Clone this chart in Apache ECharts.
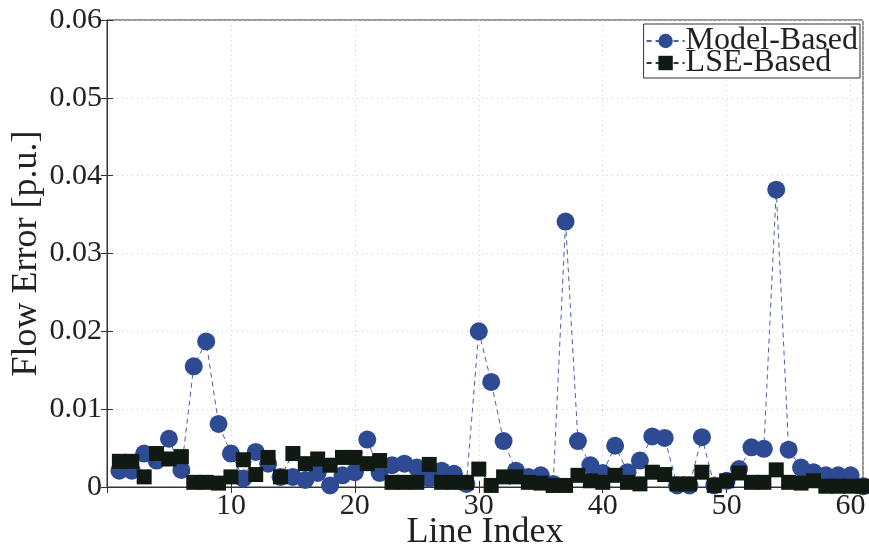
<!DOCTYPE html>
<html>
<head>
<meta charset="utf-8">
<script src="https://cdn.jsdelivr.net/npm/echarts@6/dist/echarts.min.js"></script>
<style>
  html, body { margin: 0; padding: 0; background: #fff; }
  #chart { width: 869px; height: 549px; }
</style>
</head>
<body>
<div id="chart"></div>
<script>
// 线路编号 1..61
var lineIndex = [];
for (var i = 1; i <= 61; i++) lineIndex.push(i);

// Model-Based 误差
var modelBased = [
  0.0021, 0.0021, 0.0043, 0.0034, 0.0062, 0.0022, 0.0155, 0.0187, 0.0081, 0.0043,
  0.0011, 0.0045, 0.0030, 0.0013, 0.0013, 0.0009, 0.0018, 0.0002, 0.0015, 0.0019,
  0.0061, 0.0018, 0.0028, 0.0030, 0.0025, 0.0011, 0.0021, 0.0017, 0.0004, 0.0200,
  0.0135, 0.0059, 0.0021, 0.0013, 0.0015, 0.0004, 0.0341, 0.0059, 0.0028, 0.0018,
  0.0053, 0.0019, 0.0034, 0.0065, 0.0063, 0.0002, 0.0002, 0.0064, 0.0002, 0.0008,
  0.0023, 0.0051, 0.0049, 0.0382, 0.0048, 0.0025, 0.0019, 0.0015, 0.0015, 0.0015,
  0.0001
];

// LSE-Based 误差
var lseBased = [
  0.0033, 0.0033, 0.0013, 0.0043, 0.0036, 0.0039, 0.0006, 0.0006, 0.0005, 0.0013,
  0.0035, 0.0016, 0.0038, 0.0013, 0.0043, 0.0030, 0.0036, 0.0028, 0.0038, 0.0038,
  0.0030, 0.0034, 0.0006, 0.0006, 0.0006, 0.0029, 0.0006, 0.0006, 0.0006, 0.0023,
  0.0002, 0.0013, 0.0013, 0.0006, 0.0005, 0.0002, 0.0002, 0.0015, 0.0008, 0.0006,
  0.0015, 0.0006, 0.0004, 0.0019, 0.0016, 0.0004, 0.0004, 0.0019, 0.0002, 0.0008,
  0.0018, 0.0006, 0.0006, 0.0022, 0.0006, 0.0005, 0.0008, 0.0001, 0.0001, 0.0001,
  0.0001
];

var seriesNames = ['Model-Based', 'LSE-Based'];

var FONT = 'Liberation Serif';
var TXT = '#222';

function pairs(vals) {
  var out = [];
  for (var i = 0; i < vals.length; i++) out.push([lineIndex[i], vals[i]]);
  return out;
}

var chart = echarts.init(document.getElementById('chart'));
chart.setOption({
  animation: false,
  backgroundColor: '#fff',
  grid: {
    left: 107, right: 6, top: 20, bottom: 62,
    outerBoundsMode: 'none', containLabel: false,
    show: true, borderColor: '#333', borderWidth: 1
  },
  legend: {
    data: seriesNames,
    right: 9, top: 24,
    orient: 'vertical',
    itemGap: -10,
    itemWidth: 38, itemHeight: 18,
    padding: [1, 2, -1, 2],
    backgroundColor: '#fff',
    borderColor: '#333', borderWidth: 1,
    textStyle: { fontFamily: FONT, fontSize: 32, color: TXT, padding: [0, 0, 0, -4] }
  },
  xAxis: [{
    type: 'value',
    min: 0, max: 61, interval: 10,
    name: 'Line Index', nameLocation: 'middle', nameGap: 28,
    nameMoveOverlap: false,
    nameTextStyle: { fontFamily: FONT, fontSize: 36, color: TXT },
    axisLine: { show: true, onZero: false, lineStyle: { color: '#333' } },
    axisTick: { show: true, inside: true, length: 6, lineStyle: { color: '#333' } },
    axisLabel: {
      fontFamily: FONT, fontSize: 30, color: TXT, margin: 4,
      showMinLabel: false, showMaxLabel: false,
      formatter: function (v) { return (v > 0 && v % 10 === 0) ? String(v) : ''; }
    },
    splitLine: { show: true, lineStyle: { color: '#d0d0d0', type: [1, 4] } }
  }, {
    type: 'value', position: 'top',
    min: 0, max: 61, interval: 10,
    axisLine: { show: false },
    axisTick: { show: true, inside: true, length: 6, lineStyle: { color: '#333' } },
    axisLabel: { show: false },
    splitLine: { show: false }
  }],
  yAxis: [{
    type: 'value',
    min: 0, max: 0.06, interval: 0.01,
    name: 'Flow Error [p.u.]', nameLocation: 'middle', nameGap: 62,
    nameMoveOverlap: false,
    nameTextStyle: { fontFamily: FONT, fontSize: 36, color: TXT },
    axisLine: { show: true, lineStyle: { color: '#333' } },
    axisTick: { show: true, inside: true, length: 6, lineStyle: { color: '#333' } },
    axisLabel: {
      fontFamily: FONT, fontSize: 30, color: TXT, margin: 5,
      formatter: function (v) { return v === 0 ? '0' : v.toFixed(2); }
    },
    splitLine: { show: true, lineStyle: { color: '#d0d0d0', type: [1, 4] } }
  }, {
    type: 'value', position: 'right',
    min: 0, max: 0.06, interval: 0.01,
    axisLine: { show: false },
    axisTick: { show: true, inside: true, length: 6, lineStyle: { color: '#333' } },
    axisLabel: { show: false },
    splitLine: { show: false }
  }],
  series: [{
    name: seriesNames[0],
    type: 'line',
    data: pairs(modelBased),
    symbol: 'circle', symbolSize: 18,
    itemStyle: { color: '#2d4a92' },
    lineStyle: { color: '#4a5fa8', width: 1, type: [5, 4] },
    z: 2
  }, {
    name: seriesNames[1],
    type: 'line',
    data: pairs(lseBased),
    symbol: 'rect', symbolSize: 15,
    itemStyle: { color: '#111a12' },
    lineStyle: { color: '#333', width: 1, type: [5, 4] },
    z: 3
  }]
});
</script>
</body>
</html>
